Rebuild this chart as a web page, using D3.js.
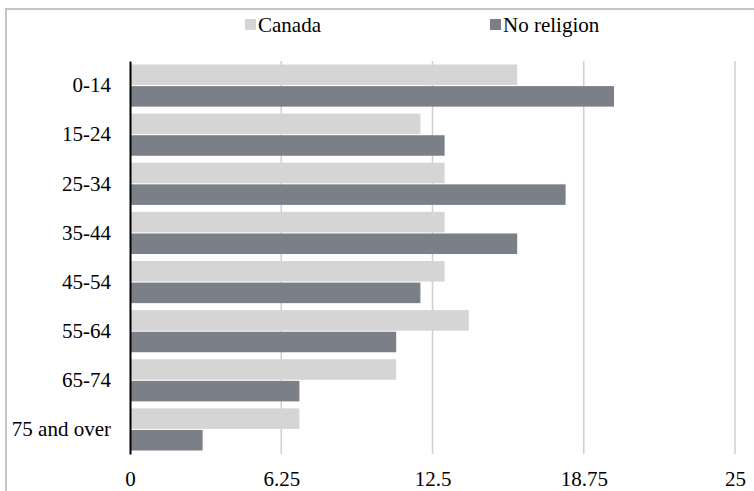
<!DOCTYPE html>
<meta charset="utf-8">
<style>
body { margin: 0; background: #fff; }
svg text { font-family: "Liberation Serif", "Times New Roman", serif; fill: #000; }
</style>
<body>
<script src="https://cdn.jsdelivr.net/npm/d3@7"></script>
<script>
// data
var ageGroups = ["0-14", "15-24", "25-34", "35-44", "45-54", "55-64", "65-74", "75 and over"];
var canada = [16, 12, 13, 13, 13, 14, 11, 7];
var noReligion = [20, 13, 18, 16, 12, 11, 7, 3];
var seriesNames = ["Canada", "No religion"];
var xTicks = [0, 6.25, 12.5, 18.75, 25];

var colors = { "Canada": "#d5d5d5", "No religion": "#7a7f88" };

var width = 754, height = 491;
var margin = {top: 61, right: 19, bottom: 37, left: 130};

var svg = d3.select("body").append("svg")
    .attr("width", width)
    .attr("height", height);

// outer chart border (runs off the right and bottom edge)
svg.append("rect")
    .attr("x", 6).attr("y", 9)
    .attr("width", 800).attr("height", 600)
    .attr("fill", "none")
    .attr("stroke", "#c6c6c6")
    .attr("stroke-width", 2);

var x = d3.scaleLinear().domain([0, 25]).range([margin.left, width - margin.right]);
var y = d3.scaleBand().domain(ageGroups)
    .range([margin.top, height - margin.bottom])
    .paddingInner(0.142).paddingOuter(0.071);
var ySub = d3.scaleBand().domain(seriesNames)
    .range([0, y.bandwidth()]).paddingInner(0.05);

var data = ageGroups.map(function(g, i) {
  return {group: g, values: [
    {name: "Canada", value: canada[i]},
    {name: "No religion", value: noReligion[i]}
  ]};
});

// vertical gridlines
svg.append("g")
  .selectAll("line")
  .data(xTicks.slice(1))
  .enter().append("line")
    .attr("x1", function(d) { return x(d); })
    .attr("x2", function(d) { return x(d); })
    .attr("y1", margin.top)
    .attr("y2", height - margin.bottom)
    .attr("stroke", "#cfcfcf")
    .attr("stroke-width", 1.5);

// bars
var groups = svg.append("g")
  .selectAll("g")
  .data(data)
  .enter().append("g")
    .attr("transform", function(d) { return "translate(0," + y(d.group) + ")"; });

groups.selectAll("rect")
  .data(function(d) { return d.values; })
  .enter().append("rect")
    .attr("x", x(0))
    .attr("y", function(d) { return ySub(d.name); })
    .attr("width", function(d) { return x(d.value) - x(0); })
    .attr("height", ySub.bandwidth())
    .attr("fill", function(d) { return colors[d.name]; });

// y axis line and labels
var yAxis = svg.append("g")
    .attr("transform", "translate(" + x(0) + ",0)")
    .call(d3.axisLeft(y).tickSize(0).tickPadding(19));
yAxis.select(".domain").attr("stroke", "#000").attr("stroke-width", 2);
yAxis.selectAll("text").style("font-size", "21px");

// x axis labels
var xAxis = svg.append("g")
    .attr("transform", "translate(0," + (height - margin.bottom) + ")")
    .call(d3.axisBottom(x).tickValues(xTicks).tickSize(0).tickPadding(17)
      .tickFormat(function(d) { return String(d); }));
xAxis.select(".domain").remove();
xAxis.selectAll("text").style("font-size", "21px");

// legend
var legendX = [245, 490];
var legend = svg.append("g")
  .selectAll("g")
  .data(seriesNames)
  .enter().append("g")
    .attr("transform", function(d, i) { return "translate(" + legendX[i] + ",19)"; });

legend.append("rect")
    .attr("width", 11).attr("height", 11)
    .attr("fill", function(d) { return colors[d]; });

legend.append("text")
    .attr("x", 13).attr("y", 12.5)
    .style("font-size", "21px")
    .text(function(d) { return d; });
</script>
</body>
